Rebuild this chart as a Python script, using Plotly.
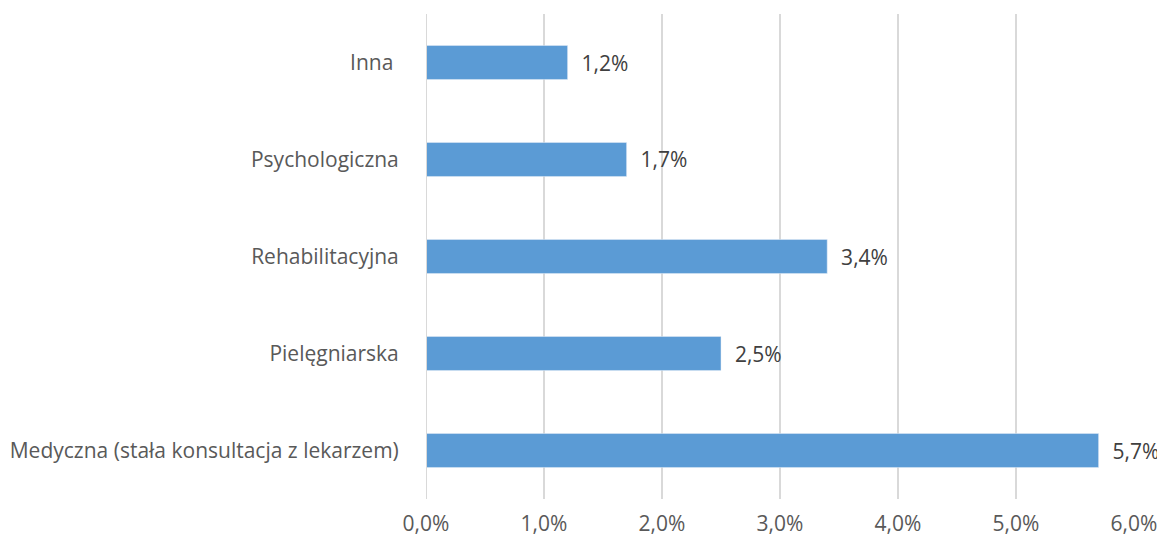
import plotly.graph_objects as go

categories = ["Medyczna (stała konsultacja z lekarzem)", "Pielęgniarska", "Rehabilitacyjna", "Psychologiczna", "Inna "]
values = [0.057, 0.025, 0.034, 0.017, 0.012]
tick_vals = [0, 0.01, 0.02, 0.03, 0.04, 0.05, 0.06]

fig = go.Figure(go.Bar(
    y=categories, x=values, orientation="h",
    marker=dict(color="#5B9BD5"),
    text=values, texttemplate="  %{x:.1%}", textposition="outside",
    textfont=dict(color="#404040", size=21),
    cliponaxis=False,
))

fig.update_layout(
    width=1157, height=533,
    margin=dict(l=418, r=31, t=6, b=42),
    plot_bgcolor="white", paper_bgcolor="white",
    separators=", ",
    font=dict(family="Open Sans, sans-serif", size=21, color="#595959"),
    bargap=0.65,
    showlegend=False,
    xaxis=dict(range=[0, 0.06], tickvals=tick_vals, tickformat=".1%",
               showgrid=True, gridcolor="#D9D9D9", gridwidth=2,
               zeroline=False, showline=False, automargin=False,
               ticks="outside", ticklen=6, tickcolor="rgba(0,0,0,0)"),
    yaxis=dict(showgrid=False, zeroline=False, showline=False, automargin=False,
               ticks="outside", ticklen=22, tickcolor="rgba(0,0,0,0)"),
)
fig.add_vline(x=0, line_color="#D9D9D9", line_width=2)

fig.write_html("out.html")
